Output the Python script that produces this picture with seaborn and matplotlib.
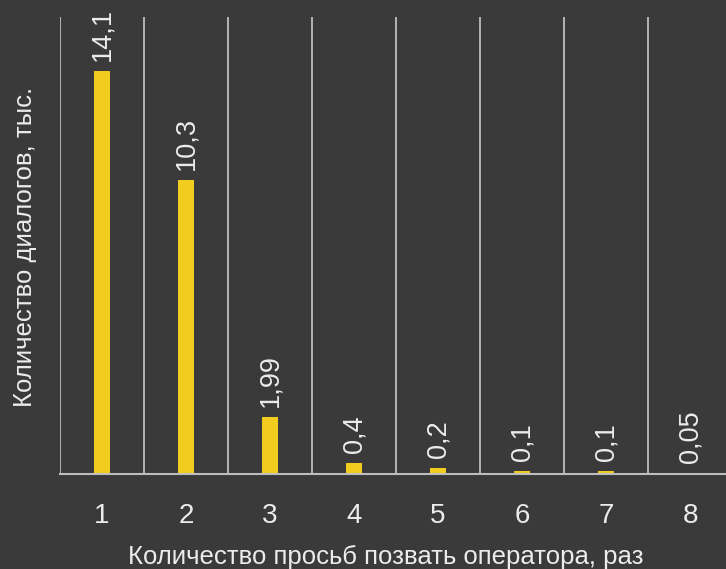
import matplotlib
matplotlib.use("Agg")
import matplotlib.pyplot as plt
import seaborn as sns
import pandas as pd
import numpy as np

categories = ["1", "2", "3", "4", "5", "6", "7", "8"]
values = [14.1, 10.3, 1.99, 0.4, 0.2, 0.1, 0.1, 0.05]
value_labels = ["14,1", "10,3", "1,99", "0,4", "0,2", "0,1", "0,1", "0,05"]

BG = "#3a3a3a"
BAR = "#f2cc1e"
TXT = "#ececec"
GRID = "#bdbdbd"

sns.set_theme(style="dark")
plt.rcParams["font.family"] = ["Liberation Sans", "DejaVu Sans"]

W, H = 726, 569
fig = plt.figure(figsize=(W / 100, H / 100), dpi=100, facecolor=BG)
ax = fig.add_axes([60 / W, (H - 474) / H, 672 / W, (474 - 17) / H])
ax.set_facecolor(BG)

df = pd.DataFrame({"cat": categories, "val": values})
sns.barplot(data=df, x="cat", y="val", color=BAR, width=0.18, saturation=1,
            linewidth=0, edgecolor=BAR, ax=ax)

ax.set_xlim(-0.5, 7.5)
ax.set_ylim(0, 16)

for i, (v, lab) in enumerate(zip(values, value_labels)):
    ax.text(i, v + 0.35, lab, rotation=90, ha="center", va="bottom",
            color=TXT, fontsize=19.5)

ax.grid(False)
for xpos in np.arange(-0.5, 7.0, 1.0):
    ax.axvline(xpos, color=GRID, lw=1.3, zorder=0)

for s in ["top", "right", "left"]:
    ax.spines[s].set_visible(False)
ax.spines["bottom"].set_visible(True)
ax.spines["bottom"].set_color(GRID)
ax.spines["bottom"].set_linewidth(1.5)

ax.set_yticks([])
ax.tick_params(axis="x", which="both", length=0, pad=21, labelsize=20, colors=TXT)

ax.set_xlabel("Количество просьб позвать оператора, раз", color=TXT, fontsize=18.5)
ax.set_ylabel("Количество диалогов, тыс.", color=TXT, fontsize=18.5)
ax.xaxis.set_label_coords((386 - 60) / 672, -(557 - 474) / 457)
ax.yaxis.set_label_coords(-(60 - 25) / 672, (474 - 247) / 457)
ax.xaxis.label.set_va("center")
ax.yaxis.label.set_va("center")

fig.savefig("out.png", dpi=100, facecolor=BG)
